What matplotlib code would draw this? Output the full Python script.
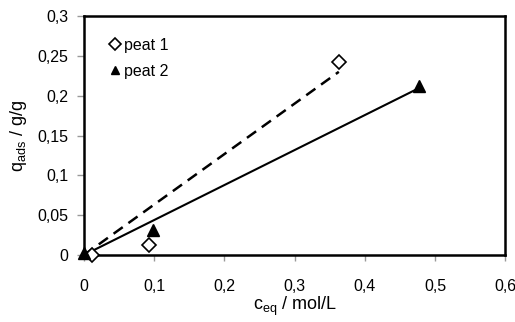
import numpy as np
import matplotlib.pyplot as plt

plt.rcParams['font.family'] = ['Liberation Sans', 'DejaVu Sans']
plt.rcParams['mathtext.fontset'] = 'custom'
plt.rcParams['mathtext.rm'] = 'Liberation Sans'

# adsorption data
c1 = np.array([0.012, 0.092, 0.363])   # peat 1, mol/L
q1 = np.array([0.0, 0.012, 0.242])     # peat 1, g/g
c2 = np.array([0.0, 0.098, 0.477])     # peat 2
q2 = np.array([0.002, 0.031, 0.212])

xticks = [0, 0.1, 0.2, 0.3, 0.4, 0.5, 0.6]
xlabels = ["0", "0,1", "0,2", "0,3", "0,4", "0,5", "0,6"]
yticks = [0, 0.05, 0.1, 0.15, 0.2, 0.25, 0.3]
ylabels = ["0", "0,05", "0,1", "0,15", "0,2", "0,25", "0,3"]

# linear fits through origin
k1 = np.sum(c1*q1)/np.sum(c1**2)
k2 = np.sum(c2*q2)/np.sum(c2**2)

fig = plt.figure(figsize=(5.15, 3.22), dpi=100)
ax = fig.add_axes([0.163, 0.208, 0.818, 0.742])

xf1 = np.array([0, c1.max()])
xf2 = np.array([0, c2.max()])
ax.plot(xf1, k1*xf1, color="black", lw=1.8, ls=(0, (4.5, 2.8)), zorder=2)
ax.plot(xf2, k2*xf2, color="black", lw=1.5, zorder=2)

ax.plot(c1, q1, ls="none", marker="D", ms=7.5, mfc="white", mec="black", mew=1.2,
        label="peat 1", zorder=3, clip_on=False)
ax.plot(c2, q2, ls="none", marker="^", ms=8, mfc="black", mec="black",
        label="peat 2", zorder=3, clip_on=False)

ax.set_xlim(0, 0.6)
ax.set_ylim(0, 0.3)
ax.set_xticks(xticks)
ax.set_xticklabels(xlabels)
ax.set_yticks(yticks)
ax.set_yticklabels(ylabels)
ax.tick_params(axis="x", length=4, width=1, color="#999999", pad=13, labelsize=11.5)
ax.tick_params(axis="y", length=5, width=1, color="#999999", pad=6, labelsize=11.5)

for s in ax.spines.values():
    s.set_linewidth(1.8)

ax.set_xlabel(r"c$_{\mathrm{eq}}$ / mol/L", fontsize=13, labelpad=1)
ax.set_ylabel(r"q$_{\mathrm{ads}}$ / g/g", fontsize=13, labelpad=6)

ax.legend(loc="upper left", frameon=False, fontsize=11.5, handletextpad=0.1,
          handlelength=1.0, borderaxespad=0.5, labelspacing=0.7, markerscale=0.8,
          bbox_to_anchor=(0.02, 0.97))

fig.savefig("out.png", dpi=100)
